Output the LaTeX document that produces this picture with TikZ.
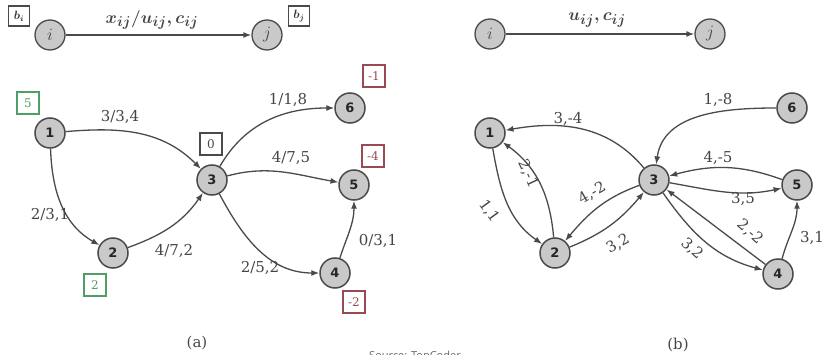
\documentclass[tikz,border=0pt]{standalone}
\usepackage{fontspec}
\setmainfont{DejaVu Serif}
\newfontfamily\nodefont{DejaVu Sans}
\newfontfamily\srcfont{Open Sans}
\usetikzlibrary{arrows.meta}
\definecolor{txt}{HTML}{454545}
\definecolor{ln}{HTML}{4A4A4A}
\definecolor{nfill}{HTML}{C9C9C9}
\definecolor{grn}{HTML}{4E9E66}
\definecolor{rd}{HTML}{9A4A52}
\tikzset{
  vert/.style={circle,draw=ln,line width=1.5pt,fill=nfill,minimum size=30pt,inner sep=0pt,
    font=\nodefont\bfseries\fontsize{13}{13}\selectfont,text=black!85},
  ivert/.style={circle,draw=ln,line width=1.3pt,fill=nfill,minimum size=30pt,inner sep=0pt,
    font=\fontsize{17}{17}\selectfont,text=txt},
  edge/.style={draw=ln,line width=1.3pt,-{Latex[length=8pt,width=6pt]}},
  lbl/.style={font=\fontsize{15}{15}\selectfont,text=txt,inner sep=0pt},
  supbox/.style={draw,line width=1.2pt,minimum size=22pt,inner sep=0pt,font=\fontsize{12}{12}\selectfont},
  legbox/.style={draw=ln,line width=1.2pt,minimum width=21pt,minimum height=20pt,inner sep=0pt,font=\fontsize{12}{12}\selectfont,text=black!80},
}
\begin{document}
\begin{tikzpicture}[x=1pt,y=1pt]
\useasboundingbox (0,0) rectangle (826,-355);
% ---------- (a) legend
\node[ivert] (ai) at (50,-35) {$i$};
\node[ivert] (aj) at (267,-35) {$j$};
\node[legbox] (abi) at (19,-16) {{\boldmath$b_i$}};
\node[legbox] (abj) at (299,-16) {{\boldmath$b_j$}};
\draw[edge] (ai) -- (aj);
\node[lbl,font=\fontsize{19}{19}\selectfont] (alab) at (152,-20) {{\boldmath$x_{ij}/u_{ij},c_{ij}$}};
% ---------- (a) graph
\node[vert] (a1) at (50,-133) {1};
\node[vert] (a2) at (113,-253) {2};
\node[vert] (a3) at (212,-180) {3};
\node[vert] (a4) at (335,-273) {4};
\node[vert] (a5) at (354,-185) {5};
\node[vert] (a6) at (350,-108) {6};
\node[supbox,draw=grn,text=grn] (s1) at (28,-103) {5};
\node[supbox,draw=grn,text=grn] (s2) at (95,-285) {2};
\node[supbox,draw=ln,text=txt] (s3) at (211,-144) {0};
\node[supbox,draw=rd,text=rd] (s6) at (374,-76) {-1};
\node[supbox,draw=rd,text=rd] (s5) at (373,-156) {-4};
\node[supbox,draw=rd,text=rd] (s4) at (354,-302) {-2};
\draw[edge] (a1) to[out=5,in=135] (a3);
\draw[edge] (a1) to[out=-88,in=150] (a2);
\draw[edge] (a2) to[out=20,in=-125] (a3);
\draw[edge] (a3) to[out=60,in=180] (a6);
\draw[edge] (a3) to[out=15,in=170] (a5);
\draw[edge] (a3) to[out=-62,in=180] (a4);
\draw[edge] (a4) to[out=72,in=-90] (a5);
\node[lbl] (l13) at (120,-117) {3/3,4};
\node[lbl] (l12) at (50,-215) {2/3,1};
\node[lbl] (l23) at (174,-251) {4/7,2};
\node[lbl] (l36) at (288,-100) {1/1,8};
\node[lbl] (l35) at (291,-158) {4/7,5};
\node[lbl] (l34) at (260,-268) {2/5,2};
\node[lbl] (l45) at (378,-241) {0/3,1};
\node[lbl] (la) at (197,-343) {(a)};
% ---------- (b) legend
\node[ivert] (bi) at (490,-34) {$i$};
\node[ivert] (bj) at (710,-34) {$j$};
\draw[edge] (bi) -- (bj);
\node[lbl,font=\fontsize{19}{19}\selectfont] (blab) at (597,-20) {{\boldmath$u_{ij},c_{ij}$}};
% ---------- (b) graph
\node[vert] (b1) at (490,-133) {1};
\node[vert] (b2) at (555,-253) {2};
\node[vert] (b3) at (654,-180) {3};
\node[vert] (b4) at (778,-274) {4};
\node[vert] (b5) at (797,-185) {5};
\node[vert] (b6) at (792,-108) {6};
\draw[edge] (b3) to[out=130,in=10] (b1);
\draw[edge] (b1) to[out=-80,in=145] (b2);
\draw[edge] (b2) to[out=95,in=-36] (b1);
\draw[edge] (b3) to[out=200,in=50] (b2);
\draw[edge] (b2) to[out=22,in=-130] (b3);
\draw[edge] (b6) to[out=180,in=82] (b3);
\draw[edge] (b5) to[out=160,in=15] (b3);
\draw[edge] (b3) to[out=-10,in=-168] (b5);
\draw[edge] (b3) to[out=-55,in=165] (b4);
\draw[edge] (b4) -- (b3);
\draw[edge] (b4) to[out=75,in=-90] (b5);
\node[lbl] (m31) at (568,-119) {3,-4};
\node[lbl,rotate=-54] (m12) at (489,-211) {1,1};
\node[lbl,rotate=-65] (m21) at (528,-174) {2,-1};
\node[lbl,rotate=30] (m32) at (592,-193) {4,-2};
\node[lbl,rotate=28] (m23) at (618,-244) {3,2};
\node[lbl] (m63) at (718,-100) {1,-8};
\node[lbl] (m53) at (718,-158) {4,-5};
\node[lbl] (m35) at (743,-199) {3,5};
\node[lbl,rotate=-42] (m34) at (692,-249) {3,2};
\node[lbl,rotate=-42] (m43) at (750,-232) {2,-2};
\node[lbl] (m45) at (812,-238) {3,1};
\node[lbl] (lb) at (678,-345) {(b)};
\node[font=\srcfont\fontsize{11}{11}\selectfont,text=black!60] (src) at (415,-357) {Source: TopCoder};
\end{tikzpicture}
\end{document}
